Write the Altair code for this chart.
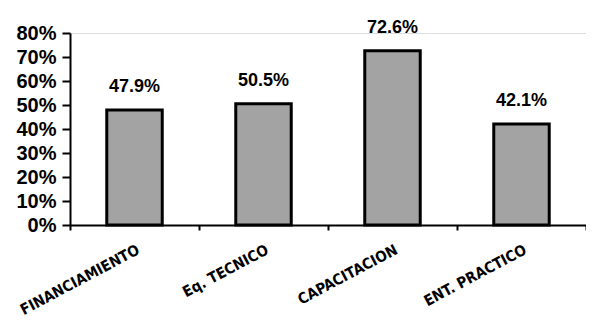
import altair as alt
import pandas as pd

categories = ["FINANCIAMIENTO", "Eq. TECNICO", "CAPACITACION", "ENT. PRACTICO"]
values = [0.479, 0.505, 0.726, 0.421]
labels = ["47.9%", "50.5%", "72.6%", "42.1%"]
yticks = [0, 0.1, 0.2, 0.3, 0.4, 0.5, 0.6, 0.7, 0.8]

df = pd.DataFrame({"cat": categories, "val": values, "lab": labels})

W = 516

x = alt.X("cat:N", sort=categories, title=None,
          scale=alt.Scale(paddingInner=0, paddingOuter=0),
          axis=alt.Axis(labelAngle=-28, labelAlign="right", labelBaseline="top",
                        labelFont="DejaVu Sans Condensed", labelFontSize=15,
                        labelFontWeight="bold", labelColor="black",
                        tickBand="extent", labelPadding=12,
                        labelOverlap=False, labelLimit=300,
                        tickSize=5, tickColor="black", tickWidth=2,
                        domainColor="black", domainWidth=2))
y = alt.Y("val:Q", title=None,
          scale=alt.Scale(domain=[0, 0.8], nice=False),
          axis=alt.Axis(values=yticks, format=".0%", labelOverlap=False, labelFlush=False,
                        labelFont="Liberation Sans", labelFontSize=20,
                        labelFontWeight="bold", labelColor="black", labelPadding=6,
                        tickSize=8, tickColor="black", tickWidth=2,
                        domainColor="black", domainWidth=2, grid=False))

base = alt.Chart(df).encode(x=x, y=y)
bars = base.mark_bar(fill="#a3a3a3", stroke="black", strokeWidth=3,
                     width=alt.RelativeBandSize(0.43))
text = base.mark_text(dy=-14, baseline="bottom", font="Liberation Sans",
                      fontSize=18, fontWeight="bold", color="black").encode(text="lab:N")

chart = (bars + text).properties(
    width=W, height=192,
    autosize=alt.AutoSizeParams(type="none"),
    padding={"left": 62, "top": 25, "right": 0, "bottom": 90},
).configure_view(stroke=None).configure(background="white")

chart.save("out.html", embed_options={"renderer": "svg", "actions": False})
